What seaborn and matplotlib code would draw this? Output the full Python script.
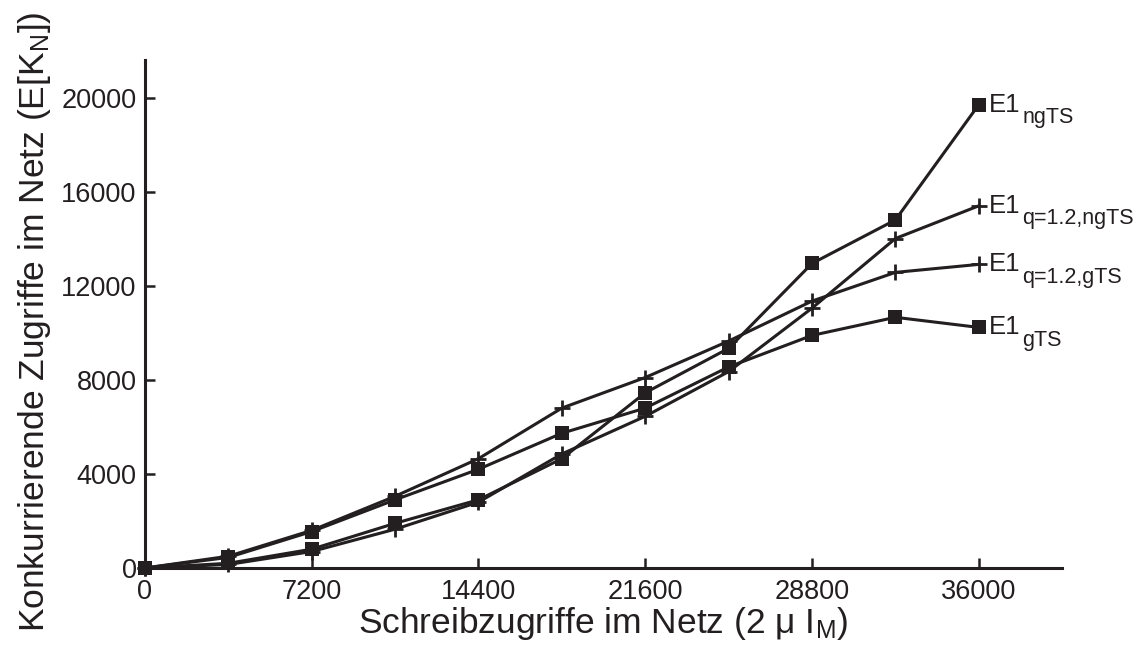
import matplotlib
matplotlib.use("Agg")
import matplotlib.pyplot as plt
import seaborn as sns
import pandas as pd

# Schreibzugriffe im Netz (x-axis)
writes = [0, 3600, 7200, 10800, 14400, 18000, 21600, 25200, 28800, 32400, 36000]

# Konkurrierende Zugriffe per variant
e1_ngts = [0, 200, 800, 1900, 2900, 4650, 7450, 9340, 12950, 14800, 19700]
e1_q_ngts = [0, 150, 700, 1650, 2800, 4850, 6450, 8350, 11050, 14010, 15400]
e1_q_gts = [0, 500, 1600, 3050, 4650, 6800, 8100, 9650, 11350, 12570, 12910]
e1_gts = [0, 450, 1550, 2900, 4200, 5730, 6800, 8550, 9890, 10660, 10230]

series_names = ["ngTS", "q=1.2,ngTS", "q=1.2,gTS", "gTS"]
series_values = [e1_ngts, e1_q_ngts, e1_q_gts, e1_gts]
series_markers = ["s", "+", "+", "s"]

x_ticks = [0, 7200, 14400, 21600, 28800, 36000]
y_ticks = [0, 4000, 8000, 12000, 16000, 20000]

sns.set_theme(style="ticks")
plt.rcParams["font.family"] = ["Liberation Sans", "DejaVu Sans"]
plt.rcParams["mathtext.fontset"] = "custom"
plt.rcParams["mathtext.rm"] = "Liberation Sans"
plt.rcParams["mathtext.it"] = "Liberation Sans:italic"
plt.rcParams["mathtext.bf"] = "Liberation Sans:bold"

ink = "#231f20"

fig = plt.figure(figsize=(11.36, 6.51), dpi=100)
ax = fig.add_axes([0.1276, 0.1275, 0.8074, 0.7803])

for name, vals, mk in zip(series_names, series_values, series_markers):
    df = pd.DataFrame({"x": writes, "y": vals})
    if mk == "s":
        sns.lineplot(data=df, x="x", y="y", ax=ax, color=ink, lw=2.2,
                     marker="s", markersize=10.5, markeredgewidth=0,
                     markerfacecolor=ink, estimator=None, sort=False,
                     clip_on=False, zorder=3)
    else:
        sns.lineplot(data=df, x="x", y="y", ax=ax, color=ink, lw=2.2,
                     marker="+", markersize=12, markeredgewidth=2.0,
                     markeredgecolor=ink, estimator=None, sort=False,
                     clip_on=False, zorder=3)
    # series label next to the last point: "E1" with a subscript
    main = ax.annotate("E1", xy=(writes[-1], vals[-1]), xytext=(7, 0),
                       textcoords="offset points", ha="left", va="center",
                       fontsize=18.5, color=ink)
    ax.annotate(name, xy=(1, 0.40), xycoords=main, xytext=(1.5, 0),
                textcoords="offset points", ha="left", va="top",
                fontsize=15.5, color=ink)

ax.set_xlim(0, 39600)
ax.set_ylim(0, 21600)
ax.set_xticks(x_ticks)
ax.set_yticks(y_ticks)
ax.set_xticklabels([str(v) for v in x_ticks])
ax.set_yticklabels([str(v) for v in y_ticks])
ax.tick_params(direction="in", length=7, width=1.8, colors=ink,
               labelsize=19.5, pad=6)
ax.tick_params(axis="x", pad=8)

for side in ("top", "right"):
    ax.spines[side].set_visible(False)
for side in ("left", "bottom"):
    ax.spines[side].set_linewidth(2.2)
    ax.spines[side].set_color(ink)

ax.set_xlabel(r"Schreibzugriffe im Netz (2 μ I$_\mathrm{M}$)", fontsize=25.5,
              color=ink, labelpad=0)
ax.set_ylabel(r"Konkurrierende Zugriffe im Netz (E[K$_\mathrm{N}$])",
              fontsize=25.5, color=ink, labelpad=6)
ax.yaxis.label.set_y(0.485)

fig.savefig("out.png", dpi=100)
